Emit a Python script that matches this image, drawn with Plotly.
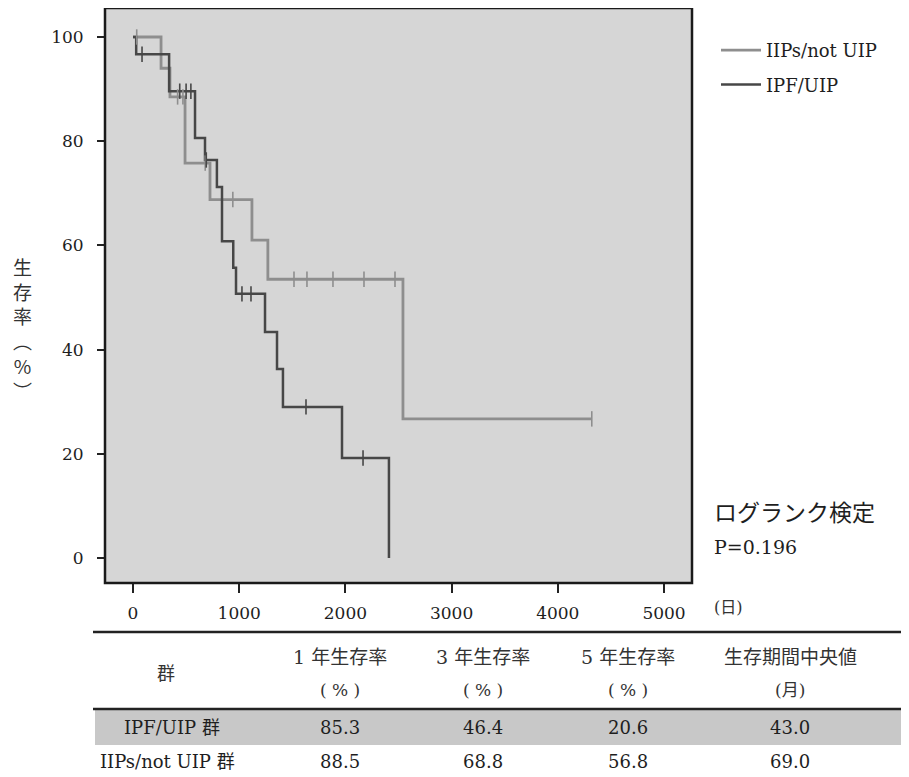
import numpy as np
import plotly.graph_objects as go

# ---------------- data ----------------
# Kaplan-Meier steps (day, survival %)
ipf_time = [0, 30, 340, 584, 678, 790, 838, 944, 970, 1243, 1356, 1412, 1968, 2410]
ipf_surv = [100, 96.7, 89.6, 80.6, 76.4, 71.2, 60.8, 55.7, 50.7, 43.4, 36.3, 29.0, 19.2, 0]
ipf_censor = [85, 440, 500, 545, 690, 1026, 1111, 1629, 2166]

iip_time = [0, 264, 348, 490, 725, 1120, 1270, 2542, 4320]
iip_surv = [100, 94.0, 88.5, 75.8, 68.8, 61.0, 53.5, 26.7, 26.7]
iip_censor = [35, 420, 470, 680, 940, 1516, 1638, 1883, 2175, 2467, 4320]

series_names = ["IIPs/not UIP", "IPF/UIP"]

x_ticks = [0, 1000, 2000, 3000, 4000, 5000]
y_ticks = [0, 20, 40, 60, 80, 100]

table_header_top = ["群", "1 年生存率", "3 年生存率", "5 年生存率", "生存期間中央値"]
table_header_unit = ["", "( % )", "( % )", "( % )", "(月)"]
table_rows = ["IPF/UIP 群", "IIPs/not UIP 群"]
yr1 = ["85.3", "88.5"]
yr3 = ["46.4", "68.8"]
yr5 = ["20.6", "56.8"]
median_months = ["43.0", "69.0"]

logrank_label = "ログランク検定"
p_value = "P=0.196"

# ---------------- layout geometry ----------------
OFF = 8  # page body margin
W, H = 909 - OFF, 777 - OFF
L, R, T, B = 105, 692, 8, 583  # plot frame in page pixels


def px(x):
    return (x - L) / (R - L)


def py(y):
    return (B - y) / (B - T)


FONT = "DejaVu Serif, Noto Sans CJK JP"
LIGHT = "#8e8e8e"
DARK = "#474747"
TXT = "#1e1e1e"


def censor_y(times, surv, cens):
    t = np.asarray(times)
    s = np.asarray(surv)
    idx = np.searchsorted(t, np.asarray(cens), side="right") - 1
    return s[idx]


fig = go.Figure()

fig.add_trace(go.Scatter(x=iip_time, y=iip_surv, mode="lines", line=dict(shape="hv", color=LIGHT, width=2.8),
                         name=series_names[0], legendgroup="a"))
fig.add_trace(go.Scatter(x=ipf_time, y=ipf_surv, mode="lines", line=dict(shape="hv", color=DARK, width=2.5),
                         name=series_names[1], legendgroup="b"))
fig.add_trace(go.Scatter(x=iip_censor, y=censor_y(iip_time, iip_surv, iip_censor), mode="markers",
                         marker=dict(symbol="line-ns", size=11, line=dict(color=LIGHT, width=1.6)),
                         showlegend=False, legendgroup="a"))
fig.add_trace(go.Scatter(x=ipf_censor, y=censor_y(ipf_time, ipf_surv, ipf_censor), mode="markers",
                         marker=dict(symbol="line-ns", size=11, line=dict(color=DARK, width=1.6)),
                         showlegend=False, legendgroup="b"))

x0 = -(133 - L) / 0.1062
x1 = (R - 133) / 0.1062
y0 = -(B - 558) / 5.21
y1 = (558 - T) / 5.21

fig.update_xaxes(range=[x0, x1], tickvals=x_ticks, ticks="outside", ticklen=9, tickwidth=1.5,
                 tickcolor="#222", showgrid=False, zeroline=False, showline=False,
                 tickfont=dict(family=FONT, size=17, color=TXT), ticklabelstandoff=6)
fig.update_yaxes(range=[y0, y1], tickvals=y_ticks, ticks="outside", ticklen=7, tickwidth=1.5,
                 tickcolor="#222", showgrid=False, zeroline=False, showline=False,
                 tickfont=dict(family=FONT, size=17, color=TXT), ticklabelstandoff=10)

shapes = []
# plot frame
shapes.append(dict(type="rect", xref="paper", yref="paper", x0=0, x1=1, y0=0, y1=1,
                   line=dict(color="#1a1a1a", width=2.5), layer="above"))
# table rules and band
shapes.append(dict(type="rect", xref="paper", yref="paper", x0=px(95), x1=px(906), y0=py(745), y1=py(710),
                   fillcolor="#c8c8c8", line=dict(width=0), layer="below"))
shapes.append(dict(type="line", xref="paper", yref="paper", x0=px(93), x1=px(906), y0=py(632), y1=py(632),
                   line=dict(color="#222", width=2.5)))
shapes.append(dict(type="line", xref="paper", yref="paper", x0=px(93), x1=px(906), y0=py(709), y1=py(709),
                   line=dict(color="#222", width=2.5)))

ann = []
# y-axis title (vertical)
ann.append(dict(text="生<br>存<br>率<br>︵<br>%<br>︶", xref="paper", yref="paper", x=px(22), y=py(328),
                showarrow=False, font=dict(family="Noto Sans CJK JP", size=19, color="#333"),
                xanchor="center", yanchor="middle"))
ann.append(dict(text="(日)", xref="paper", yref="paper", x=px(712), y=py(607), showarrow=False,
                font=dict(family=FONT, size=16, color="#333"), xanchor="left", yanchor="middle"))
ann.append(dict(text=logrank_label, xref="paper", yref="paper", x=px(712), y=py(513), showarrow=False,
                font=dict(family=FONT, size=23, color=TXT), xanchor="left", yanchor="middle"))
ann.append(dict(text=p_value, xref="paper", yref="paper", x=px(712), y=py(547), showarrow=False,
                font=dict(family=FONT, size=19, color=TXT), xanchor="left", yanchor="middle"))

col_x = [166, 340, 483, 628, 790]
for i, (top, unit) in enumerate(zip(table_header_top, table_header_unit)):
    if i == 0:
        ann.append(dict(text=top, xref="paper", yref="paper", x=px(col_x[i]), y=py(673), showarrow=False,
                        font=dict(family=FONT, size=18, color="#333"), xanchor="center", yanchor="middle"))
    else:
        ann.append(dict(text=top, xref="paper", yref="paper", x=px(col_x[i]), y=py(657), showarrow=False,
                        font=dict(family=FONT, size=19, color="#333"), xanchor="center", yanchor="middle"))
        ann.append(dict(text=unit, xref="paper", yref="paper", x=px(col_x[i]), y=py(690), showarrow=False,
                        font=dict(family=FONT, size=17, color="#333"), xanchor="center", yanchor="middle"))

row_y = [727, 762]
row_x = [122, 98]
for r in range(2):
    ann.append(dict(text=table_rows[r], xref="paper", yref="paper", x=px(row_x[r]), y=py(row_y[r]),
                    showarrow=False, font=dict(family=FONT, size=18, color=TXT),
                    xanchor="left", yanchor="middle"))
    for c, vals in enumerate([yr1, yr3, yr5, median_months]):
        ann.append(dict(text=vals[r], xref="paper", yref="paper", x=px(col_x[c + 1]), y=py(row_y[r]),
                        showarrow=False, font=dict(family=FONT, size=18, color=TXT),
                        xanchor="center", yanchor="middle"))

fig.update_layout(
    width=W, height=H,
    margin=dict(l=L - OFF, r=(W + OFF) - R, t=T - OFF, b=(H + OFF) - B, pad=0),
    paper_bgcolor="white", plot_bgcolor="#d6d6d6",
    showlegend=True,
    legend=dict(x=px(716), y=py(32), xanchor="left", yanchor="top", bgcolor="rgba(0,0,0,0)",
                font=dict(family=FONT, size=18, color=TXT), tracegroupgap=8, itemwidth=40),
    shapes=shapes, annotations=ann,
)

fig.write_html("out.html")
